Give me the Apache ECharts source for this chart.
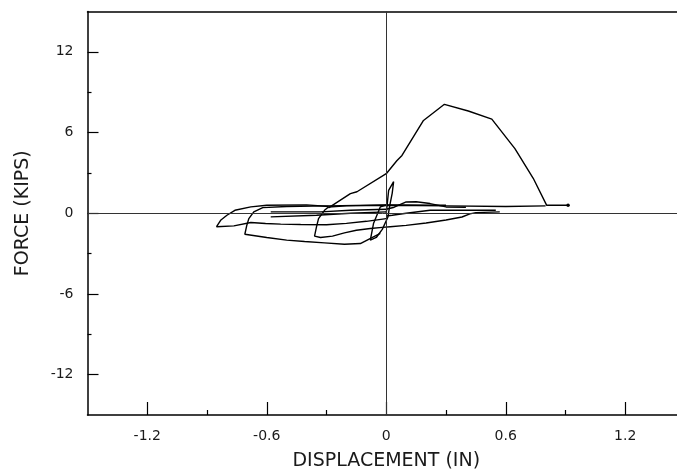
<!DOCTYPE html>
<html>
<head>
<meta charset="utf-8">
<script src="https://cdn.jsdelivr.net/npm/echarts@6/dist/echarts.min.js"></script>
<style>
  html, body { margin: 0; padding: 0; background: #fff; }
  #chart { width: 677px; height: 476px; }
</style>
</head>
<body>
<div id="chart"></div>
<script>
// Tick positions (displacement in inches, force in kips)
const xMajorTicks = [-1.2, -0.6, 0, 0.6, 1.2];
const xMinorTicks = [-0.9, -0.3, 0.3, 0.9];
const yMajorTicks = [-12, -6, 0, 6, 12];
const yMinorTicks = [-9, -3, 3, 9];

// Hysteresis branches as [displacement, force] pairs
const initialSpike = [
  [0, 0], [0.012, 1.7], [0.037, 2.35], [0.03, 1.5], [0.018, 0.6], [0.008, -0.3],
  [-0.02, -1.2], [-0.05, -1.8], [-0.08, -2.0], [-0.064, -0.77], [-0.03, 0.47], [0.0, 0.6]
];
const smallHump = [
  [0.0, 0.3], [0.04, 0.45], [0.1, 0.84], [0.15, 0.86], [0.22, 0.72], [0.3, 0.47], [0.4, 0.45]
];
const returnRightA = [
  [0.57, 0.1], [0.45, 0.05], [0.42, -0.05], [0.38, -0.28], [0.3, -0.5], [0.2, -0.72],
  [0.1, -0.9], [0.02, -1.0], [-0.02, -1.05]
];
const returnRightB = [
  [0.55, 0.22], [0.22, 0.22], [0.1, 0.0], [0.03, -0.15], [0.0, -0.2]
];
const loopSmall = [
  [-0.02, -1.05], [-0.08, -1.13], [-0.15, -1.26], [-0.21, -1.46], [-0.27, -1.7],
  [-0.33, -1.8], [-0.36, -1.7], [-0.35, -1.0], [-0.34, -0.4], [-0.31, 0.22],
  [-0.29, 0.47], [-0.2, 0.55], [0.0, 0.6], [0.3, 0.55], [0.6, 0.5], [0.8, 0.55]
];
const loopMedium = [
  [-0.03, -1.5], [-0.13, -2.25], [-0.21, -2.3], [-0.31, -2.2], [-0.41, -2.1],
  [-0.5, -2.0], [-0.6, -1.8], [-0.71, -1.56], [-0.70, -0.89], [-0.69, -0.4],
  [-0.665, 0.1], [-0.62, 0.42], [-0.5, 0.5], [-0.3, 0.55], [0.0, 0.62], [0.3, 0.6]
];
const middleBranchA = [[-0.58, 0.1], [-0.33, 0.1], [-0.18, 0.22], [0.0, 0.3]];
const middleBranchB = [[-0.58, -0.27], [-0.35, -0.15], [-0.18, 0.0], [0.0, 0.1]];
const loopLarge = [
  [0.0, -0.4], [-0.1, -0.6], [-0.2, -0.75], [-0.3, -0.85], [-0.43, -0.84],
  [-0.53, -0.81], [-0.606, -0.76], [-0.68, -0.69], [-0.765, -0.94], [-0.852, -1.0],
  [-0.83, -0.5], [-0.8, -0.15], [-0.76, 0.22], [-0.68, 0.47], [-0.6, 0.6],
  [-0.4, 0.62], [-0.29, 0.5]
];
const finalPush = [
  [-0.29, 0.4], [-0.18, 1.46], [-0.147, 1.6], [0.0, 2.94], [0.053, 3.9], [0.079, 4.3],
  [0.187, 6.9], [0.292, 8.1], [0.412, 7.6], [0.53, 7.0], [0.646, 4.8], [0.738, 2.6],
  [0.805, 0.6], [0.913, 0.6]
];

const branches = [
  initialSpike, smallHump, returnRightA, returnRightB, loopSmall, loopMedium,
  middleBranchA, middleBranchB, loopLarge, finalPush
];

const FONT = 'DejaVu Sans';
const INK = '#1a1a1a';

const chart = echarts.init(document.getElementById('chart'), null, { renderer: 'canvas' });

const frameLine = { show: true, onZero: false, lineStyle: { color: '#000', width: 1.5 } };
const hiddenLine = { show: false, onZero: false };

const series = branches.map((pts, i) => {
  const isLast = i === branches.length - 1;
  return {
    type: 'line',
    data: pts,
    xAxisIndex: 0,
    yAxisIndex: 0,
    // only the end of the final push gets a small dot
    showSymbol: isLast,
    symbol: 'circle',
    symbolSize: (v, p) => (isLast && p.dataIndex === pts.length - 1 ? 3.5 : 0),
    itemStyle: { color: '#000' },
    silent: true,
    lineStyle: { color: '#000', width: 1.4 },
    z: 3,
    markLine: i === 0 ? {
      silent: true,
      symbol: 'none',
      label: { show: false },
      lineStyle: { color: '#333', width: 1, type: 'solid' },
      data: [{ xAxis: 0 }, { yAxis: 0 }]
    } : undefined
  };
});

chart.setOption({
  animation: false,
  backgroundColor: '#fff',
  // the plot runs slightly past the right edge of the page
  grid: { left: 87.5, width: 597.5, top: 11.5, bottom: 61,
          containLabel: false, outerBoundsMode: 'none' },
  xAxis: [
    {
      type: 'value', min: -1.5, max: 1.5, position: 'bottom',
      axisLine: frameLine,
      axisTick: { show: true, inside: true, length: 13, customValues: xMajorTicks,
                  lineStyle: { color: '#000', width: 1.2 } },
      axisLabel: { show: true, customValues: xMajorTicks, margin: 14,
                   formatter: v => (v === 0 ? '0' : v.toFixed(1)),
                   fontFamily: FONT, fontSize: 14, color: INK },
      splitLine: { show: false },
      name: 'DISPLACEMENT (IN)', nameLocation: 'middle', nameGap: 37,
      nameTextStyle: { fontFamily: FONT, fontSize: 19, color: INK }
    },
    {
      type: 'value', min: -1.5, max: 1.5, position: 'bottom',
      axisLine: hiddenLine,
      axisTick: { show: true, inside: true, length: 5, customValues: xMinorTicks,
                  lineStyle: { color: '#000', width: 1.2 } },
      axisLabel: { show: false }, splitLine: { show: false }
    },
    {
      type: 'value', min: -1.5, max: 1.5, position: 'top',
      axisLine: frameLine, axisTick: { show: false },
      axisLabel: { show: false }, splitLine: { show: false }
    }
  ],
  yAxis: [
    {
      type: 'value', min: -15, max: 15, position: 'left',
      axisLine: frameLine,
      axisTick: { show: true, inside: true, length: 11, customValues: yMajorTicks,
                  lineStyle: { color: '#000', width: 1.2 } },
      axisLabel: { show: true, customValues: yMajorTicks, margin: 14,
                   fontFamily: FONT, fontSize: 14, color: INK },
      splitLine: { show: false },
      name: 'FORCE (KIPS)', nameLocation: 'middle', nameGap: 55, nameRotate: 90,
      nameTextStyle: { fontFamily: FONT, fontSize: 19, color: INK }
    },
    {
      type: 'value', min: -15, max: 15, position: 'left',
      axisLine: hiddenLine,
      axisTick: { show: true, inside: true, length: 4, customValues: yMinorTicks,
                  lineStyle: { color: '#000', width: 1.2 } },
      axisLabel: { show: false }, splitLine: { show: false }
    }
  ],
  series: series
});
</script>
</body>
</html>
